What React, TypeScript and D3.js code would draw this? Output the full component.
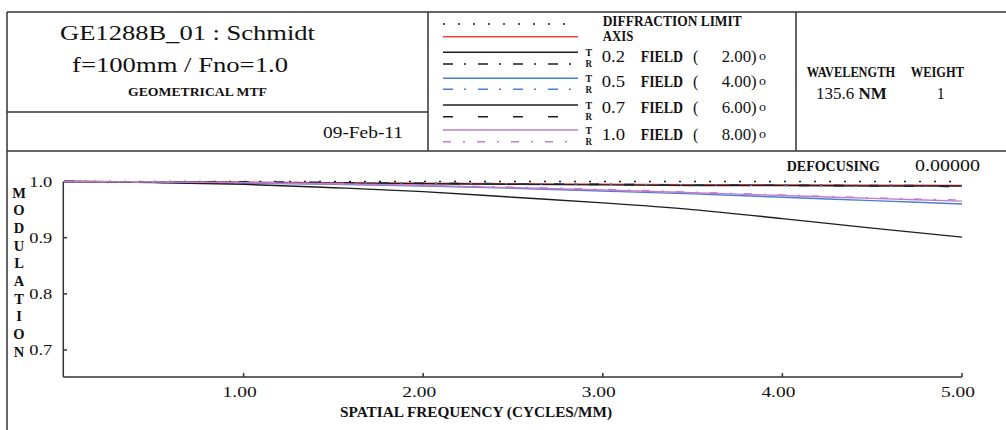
import React from "react";
import * as d3 from "d3";

// spatial frequency samples (cycles/mm) and MTF values
const freq = [0, 0.5, 1.0, 1.5, 2.0, 2.5, 3.0, 3.5, 4.0, 4.5, 5.0];
const diffraction = [1.0, 1.0, 1.0, 1.0, 1.0, 1.0, 1.0, 0.9999, 0.9999, 0.9999, 0.9999];
const axisMtf = [1.0, 0.9995, 0.999, 0.998, 0.997, 0.996, 0.995, 0.9945, 0.994, 0.9935, 0.993];
const field02T = [1.0, 0.9995, 0.998, 0.997, 0.996, 0.995, 0.994, 0.993, 0.993, 0.992, 0.992];
const field02R = [1.0, 0.9995, 0.999, 0.998, 0.997, 0.996, 0.995, 0.994, 0.9935, 0.993, 0.9925];
const field05T = [1.0, 0.999, 0.997, 0.995, 0.992, 0.988, 0.983, 0.978, 0.972, 0.966, 0.96];
const field05R = [1.0, 0.9995, 0.999, 0.998, 0.997, 0.996, 0.995, 0.994, 0.993, 0.992, 0.991];
const field07T = [1.0, 0.998, 0.995, 0.989, 0.982, 0.972, 0.962, 0.95, 0.934, 0.917, 0.901];
const field07R = [1.0, 0.9995, 0.999, 0.998, 0.9965, 0.9955, 0.9945, 0.9935, 0.993, 0.992, 0.991];
const field10T = [1.0, 0.999, 0.998, 0.996, 0.993, 0.989, 0.985, 0.98, 0.975, 0.97, 0.965];
const field10R = [1.0, 0.999, 0.998, 0.996, 0.993, 0.99, 0.986, 0.981, 0.976, 0.971, 0.967];

const xTicks = [1, 2, 3, 4, 5];
const xTickLabels = ["1.00", "2.00", "3.00", "4.00", "5.00"];
const yTicks = [0.7, 0.8, 0.9, 1.0];
const yTickLabels = ["0.7", "0.8", "0.9", "1.0"];
const fieldLabels = ["0.2", "0.5", "0.7", "1.0"];
const fieldAngles = ["2.00", "4.00", "6.00", "8.00"];

const RED = "#e8453c";
const BLUE = "#4a7fd2";
const PURPLE = "#c27ccb";
const INK = "#1e1e1e";

const series = [
  { values: diffraction, color: INK, dash: "2 13", width: 1.6 },
  { values: axisMtf, color: RED, dash: null, width: 1.4 },
  { values: field02T, color: INK, dash: null, width: 1.4 },
  { values: field02R, color: INK, dash: "10 11 2 12", width: 1.4 },
  { values: field05T, color: BLUE, dash: null, width: 1.4 },
  { values: field05R, color: BLUE, dash: "10 11 2 12", width: 1.4 },
  { values: field07T, color: INK, dash: null, width: 1.4 },
  { values: field07R, color: INK, dash: "10 25", width: 1.4 },
  { values: field10T, color: PURPLE, dash: null, width: 1.4 },
  { values: field10R, color: PURPLE, dash: "8 12 2 12", width: 1.4 },
];

// legend rows, top to bottom
const legendRows = [
  { y: 24, color: INK, dash: "2 13" },
  { y: 36.7, color: RED, dash: null },
  { y: 52.3, color: INK, dash: null },
  { y: 64, color: INK, dash: "10 11 2 12" },
  { y: 78.3, color: BLUE, dash: null },
  { y: 89.3, color: BLUE, dash: "10 11 2 12" },
  { y: 105, color: INK, dash: null },
  { y: 116.7, color: INK, dash: "10 25" },
  { y: 130, color: PURPLE, dash: null },
  { y: 141.7, color: PURPLE, dash: "8 12 2 12" },
];
const fieldBaselines = [61.7, 87.3, 113.3, 140];

const SERIF = "'Liberation Serif', 'DejaVu Serif', serif";

const App = () => {
  const x = d3.scaleLinear().domain([0, 5]).range([64, 962]);
  const y = d3.scaleLinear().domain([0.652, 1.0]).range([377, 181.5]);
  const line = d3
    .line<number>()
    .x((d, i) => x(freq[i]))
    .y((d) => y(d))
    .curve(d3.curveMonotoneX);

  const frame = { stroke: "#333", strokeWidth: 1.5 };
  const bold = { fontFamily: SERIF, fontWeight: 700, fill: "#111" } as const;
  const reg = { fontFamily: SERIF, fontWeight: 400, fill: "#111" } as const;

  return (
    <div style={{ position: "absolute", left: 0, top: 0 }}>
      <svg width={1006} height={430} style={{ display: "block", background: "#fff" }}>
        {/* frame */}
        <line x1={7} y1={12} x2={1006} y2={12} {...frame} />
        <line x1={7} y1={12} x2={7} y2={430} {...frame} />
        <line x1={7} y1={151} x2={1006} y2={151} {...frame} />
        <line x1={7} y1={112} x2={428} y2={112} {...frame} />
        <line x1={428} y1={12} x2={428} y2={151} {...frame} />
        <line x1={796} y1={12} x2={796} y2={151} {...frame} />

        {/* title cell */}
        <text x={60} y={39.5} fontSize={21} textLength={255} lengthAdjust="spacingAndGlyphs" {...reg}>
          GE1288B_01 : Schmidt
        </text>
        <text x={72} y={71.7} fontSize={21} textLength={216} lengthAdjust="spacingAndGlyphs" {...reg}>
          f=100mm / Fno=1.0
        </text>
        <text x={128} y={95.7} fontSize={12} textLength={139} lengthAdjust="spacingAndGlyphs" {...bold}>
          GEOMETRICAL MTF
        </text>
        <text x={323} y={138.3} fontSize={16} textLength={80} lengthAdjust="spacingAndGlyphs" {...reg}>
          09-Feb-11
        </text>

        {/* legend cell */}
        {legendRows.map((r, i) => (
          <line
            key={i}
            x1={443}
            x2={578}
            y1={r.y}
            y2={r.y}
            stroke={r.color}
            strokeWidth={1.5}
            strokeDasharray={r.dash ?? undefined}
          />
        ))}
        {legendRows.slice(2).map((r, i) => (
          <text key={i} x={585.5} y={r.y + (i % 2 === 0 ? 3.8 : 3.4)} fontSize={10} textLength={6.5} lengthAdjust="spacingAndGlyphs" {...bold}>
            {i % 2 === 0 ? "T" : "R"}
          </text>
        ))}
        <text x={602.7} y={26} fontSize={14} textLength={139} lengthAdjust="spacingAndGlyphs" {...bold}>
          DIFFRACTION LIMIT
        </text>
        <text x={602.7} y={41} fontSize={14} textLength={30.6} lengthAdjust="spacingAndGlyphs" {...bold}>
          AXIS
        </text>
        {fieldLabels.map((f, i) => (
          <g key={f}>
            <text x={601.7} y={fieldBaselines[i]} fontSize={17} textLength={23.3} lengthAdjust="spacingAndGlyphs" {...reg}>
              {f}
            </text>
            <text x={640.7} y={fieldBaselines[i]} fontSize={16} textLength={42.3} lengthAdjust="spacingAndGlyphs" {...bold}>
              FIELD
            </text>
            <text x={693} y={fieldBaselines[i]} fontSize={16} {...reg}>
              (
            </text>
            <text x={721.7} y={fieldBaselines[i]} fontSize={17} textLength={35} lengthAdjust="spacingAndGlyphs" {...reg}>
              {fieldAngles[i] + ")"}
            </text>
            <text x={759} y={fieldBaselines[i] - 2} fontSize={12} textLength={7} lengthAdjust="spacingAndGlyphs" {...reg}>
              o
            </text>
          </g>
        ))}

        {/* wavelength cell */}
        <text x={806.7} y={76.7} fontSize={15} textLength={88.3} lengthAdjust="spacingAndGlyphs" {...bold}>
          WAVELENGTH
        </text>
        <text x={910.7} y={76.7} fontSize={15} textLength={53.3} lengthAdjust="spacingAndGlyphs" {...bold}>
          WEIGHT
        </text>
        <text x={816} y={99} fontSize={16} textLength={70.7} lengthAdjust="spacingAndGlyphs" {...reg}>
          135.6 <tspan fontWeight={700}>NM</tspan>
        </text>
        <text x={936.7} y={99} fontSize={16} {...reg}>
          1
        </text>

        <text x={786.7} y={170.7} fontSize={15} textLength={93.3} lengthAdjust="spacingAndGlyphs" {...bold}>
          DEFOCUSING
        </text>
        <text x={915} y={170.7} fontSize={16} textLength={65} lengthAdjust="spacingAndGlyphs" {...reg}>
          0.00000
        </text>

        {/* axes */}
        <line x1={x(0) - 0.7} y1={y(1.0)} x2={x(0) - 0.7} y2={y.range()[0]} {...frame} />
        <line x1={x(0) - 0.7} y1={y.range()[0]} x2={x(5)} y2={y.range()[0]} {...frame} />
        {yTicks.map((t, i) => (
          <g key={t}>
            <line x1={x(0)} x2={x(0) + 3} y1={y(t)} y2={y(t)} {...frame} />
            <text x={52.3} y={y(t) + 5} fontSize={14} textAnchor="end" textLength={23} lengthAdjust="spacingAndGlyphs" {...reg}>
              {yTickLabels[i]}
            </text>
          </g>
        ))}
        {xTicks.map((t, i) => (
          <g key={t}>
            <line x1={x(t)} x2={x(t)} y1={y.range()[0]} y2={y.range()[0] - 4} {...frame} />
            <text x={x(t) - 21} y={396.7} fontSize={15} textLength={34} lengthAdjust="spacingAndGlyphs" {...reg}>
              {xTickLabels[i]}
            </text>
          </g>
        ))}
        {"MODULATION".split("").map((c, i) => (
          <text key={i} x={19} y={197.5 + i * 17.7} fontSize={14.5} textAnchor="middle" {...bold}>
            {c}
          </text>
        ))}
        <text x={340} y={417} fontSize={14} textLength={272} lengthAdjust="spacingAndGlyphs" {...bold}>
          SPATIAL FREQUENCY (CYCLES/MM)
        </text>

        {/* curves */}
        {series.map((s, i) => (
          <path
            key={i}
            d={line(s.values) ?? ""}
            fill="none"
            stroke={s.color}
            strokeWidth={s.width}
            strokeDasharray={s.dash ?? undefined}
          />
        ))}
      </svg>
    </div>
  );
};

export default App;
